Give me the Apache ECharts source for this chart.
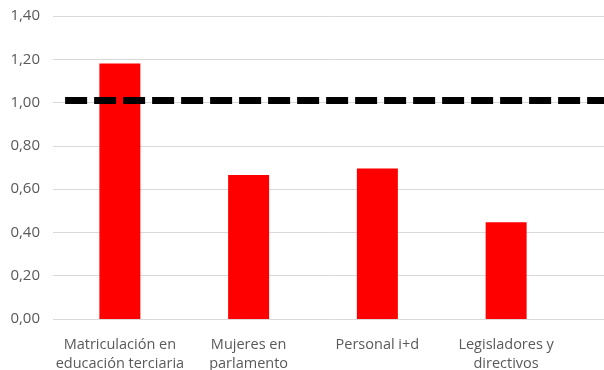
<!DOCTYPE html>
<html><head><meta charset="utf-8">
<script src="https://cdn.jsdelivr.net/npm/echarts@6/dist/echarts.min.js"></script>
<style>html,body{margin:0;padding:0;background:#fff}#c{width:604px;height:370px}</style>
</head><body><div id="c"></div>
<script>
const categories = ['Matriculación en\neducación terciaria', 'Mujeres en\nparlamento', 'Personal i+d', 'Legisladores y\ndirectivos'];
const values = [1.18, 0.665, 0.695, 0.447];
const referenceValue = 1.01;
const referenceSpan = [2.2, 100];
const yTicks = [0, 0.2, 0.4, 0.6, 0.8, 1.0, 1.2, 1.4];

const chart = echarts.init(document.getElementById('c'), null, {renderer: 'canvas'});
const font = 'Open Sans';
const grey = '#595959';
chart.setOption({
  animation: false,
  grid: [
    {left: 53, right: 0, top: 16, bottom: 51, outerBoundsMode: 'none', containLabel: false},
    {left: 55.5, right: 33.5, top: 16, bottom: 51, outerBoundsMode: 'none', containLabel: false}
  ],
  xAxis: [
    {type: 'value', gridIndex: 0, min: 0, max: 100, show: false},
    {type: 'category', gridIndex: 1, data: categories,
     axisLine: {show: false}, axisTick: {show: false},
     axisLabel: {color: grey, fontFamily: font, fontSize: 14.5, lineHeight: 19, margin: 16, interval: 0}}
  ],
  yAxis: [
    {type: 'value', gridIndex: 0, min: 0, max: 1.4, interval: 0.2,
     axisLine: {show: false}, axisTick: {show: false},
     splitLine: {lineStyle: {color: '#d9d9d9', width: 1}},
     axisLabel: {color: grey, fontFamily: font, fontSize: 15, margin: 13,
       formatter: v => v.toFixed(2).replace('.', ',')}},
    {type: 'value', gridIndex: 1, min: 0, max: 1.4, interval: 0.2, show: false}
  ],
  series: [
    {type: 'bar', xAxisIndex: 1, yAxisIndex: 1, data: values, barWidth: 41,
     itemStyle: {color: '#ff0000'}},
    {type: 'line', xAxisIndex: 0, yAxisIndex: 0, symbol: 'none',
     data: referenceSpan.map(x => [x, referenceValue]),
     lineStyle: {color: '#000', width: 7, type: [22, 7], cap: 'butt'}, z: 5}
  ]
});
</script></body></html>
